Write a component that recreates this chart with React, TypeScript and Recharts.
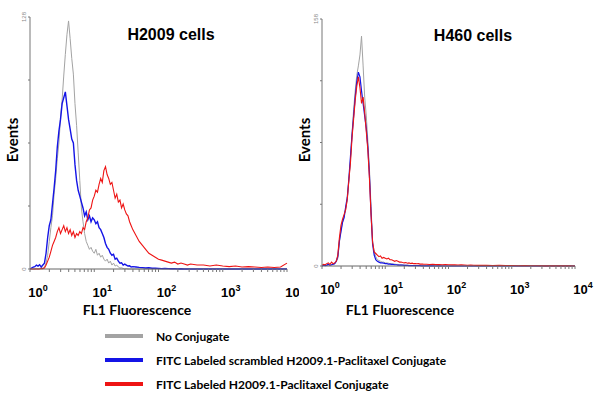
import React from 'react';
import { LineChart, Line, XAxis, YAxis, Label } from 'recharts';

// FL1 channel position in log decades (10^0 .. 10^4)
const xDecades = [
  0, 0.025, 0.05, 0.075, 0.1, 0.125, 0.15, 0.175, 0.2, 0.225,
  0.25, 0.275, 0.3, 0.325, 0.35, 0.375, 0.4, 0.425, 0.45, 0.475,
  0.5, 0.525, 0.55, 0.575, 0.6, 0.625, 0.65, 0.675, 0.7, 0.725,
  0.75, 0.775, 0.8, 0.825, 0.85, 0.875, 0.9, 0.925, 0.95, 0.975,
  1.0, 1.025, 1.05, 1.075, 1.1, 1.125, 1.15, 1.175, 1.2, 1.225,
  1.25, 1.275, 1.3, 1.325, 1.35, 1.375, 1.4, 1.425, 1.45, 1.475,
  1.5, 1.525, 1.55, 1.575, 1.6,
  1.65, 1.7, 1.75, 1.8, 1.85, 1.9, 1.95, 2.0, 2.05, 2.1,
  2.15, 2.2, 2.25, 2.3, 2.35, 2.4, 2.45, 2.5,
  2.6, 2.7, 2.8, 2.9, 3.0, 3.1, 3.2, 3.3, 3.4, 3.5, 3.6, 3.7, 3.8, 3.9, 4.0,
];

const decadeTicks = [0, 1, 2, 3, 4];
const decadeExponents = ['0', '1', '2', '3', '4'];

// H2009 cells
const h2009None = [
  0, 0, 0, 0, 0.3, 0, 0.3, 0.5, 0.4, 1,
  3, 7, 14, 21, 27, 38, 46, 56, 64, 77,
  86, 98, 109, 119, 126, 117, 107, 99, 84, 73,
  59, 45, 31, 24, 18, 14, 12, 10, 11, 9,
  8, 10, 7, 8, 6, 7, 5, 4, 5, 3,
  4, 2, 3, 1.5, 2, 1, 0.5, 0.6, 0.3, 0,
  0.2, 0, 0, 0, 0,
  0, 0, 0, 0, 0, 0, 0, 0, 0, 0,
  0, 0, 0, 0, 0, 0, 0, 0,
  0, 0, 0, 0, 0, 0, 0, 0, 0, 0, 0, 0, 0, 0, 0,
];
const h2009Scrambled = [
  0, 0.5, 1, 1.2, 2, 1.5, 2.2, 1, 2, 3,
  8, 16, 22, 25, 33, 41, 50, 62, 70, 76,
  84, 87, 90, 83, 76, 71, 66, 64, 53, 45,
  40, 37, 34, 31, 27, 29, 25, 27, 24, 26,
  25, 23, 24, 21, 20, 18, 16, 13, 11, 10,
  8, 7, 7.5, 5, 5.5, 4, 3, 3.2, 2, 2.5,
  2, 1.5, 1.6, 1, 1.2,
  1, 0.8, 0.7, 0.5, 0.6, 0.4, 0.4, 0.3, 0.2, 0.3,
  0.2, 0.1, 0.2, 0, 0.1, 0, 0, 0,
  0, 0, 0, 0, 0, 0, 0, 0, 0, 0, 0, 0, 0, 0, 0,
];
const h2009Targeted = [
  0, 0, 0, 0, 0, 0, 0, 0.3, 0.2, 0.5,
  2, 4, 6, 9, 12, 14, 16, 19, 21, 18,
  20, 22, 19, 21, 18, 20, 17, 19, 16, 18,
  17, 19, 18, 21, 20, 24, 26, 30, 31, 35,
  37, 40, 39, 43, 46, 44, 50, 52, 48, 46,
  43, 44, 40, 36, 38, 34, 35, 31, 33, 30,
  28, 27, 24, 22, 20,
  17, 14, 12, 10, 8, 7, 6, 5, 4.5, 4,
  3.5, 3, 3.5, 2.5, 3, 2.5, 2, 2.5,
  2, 2, 1.5, 2, 1.5, 1.2, 1.5, 1, 1.2, 1, 0.8, 1, 0.8, 1, 3,
];

// H460 cells
const h460None = [
  0, 0.3, 0.5, 0.3, 0.8, 0.5, 0.6, 1, 1.5, 2.5,
  5, 15, 23, 28, 32, 37, 42, 55, 68, 85,
  100, 112, 122, 128, 135, 147, 128, 108, 96, 80,
  62, 38, 16, 9, 6, 4, 3.5, 3, 2.5, 2.5,
  2, 2, 1.8, 1.5, 1.5, 1.2, 1.2, 1, 1, 0.8,
  0.8, 0.6, 0.6, 0.5, 0.5, 0.4, 0.4, 0.3, 0.3, 0.3,
  0.3, 0.2, 0.2, 0.2, 0.2,
  0.2, 0.1, 0.1, 0.1, 0, 0.1, 0, 0, 0, 0,
  0, 0, 0, 0, 0, 0, 0, 0,
  0, 0, 0, 0, 0, 0, 0, 0, 0, 0, 0, 0, 0, 0, 0,
];
const h460Scrambled = [
  0, 0.5, 0.3, 0.6, 1, 0.5, 0.8, 1.2, 1.5, 3,
  6, 16, 22, 28, 31, 38, 44, 56, 70, 84,
  96, 108, 118, 124, 121, 112, 104, 96, 88, 76,
  58, 34, 14, 7, 4, 3, 2.5, 2, 2, 1.8,
  1.5, 1.5, 1.2, 1.2, 1, 1, 0.8, 0.8, 0.6, 0.6,
  0.5, 0.5, 0.4, 0.4, 0.4, 0.3, 0.3, 0.3, 0.2, 0.2,
  0.2, 0.2, 0.2, 0.1, 0.1,
  0.1, 0.1, 0.1, 0, 0.1, 0, 0, 0, 0, 0,
  0, 0, 0, 0, 0, 0, 0, 0,
  0, 0, 0, 0, 0, 0, 0, 0, 0, 0, 0, 0, 0, 0, 0,
];
const h460Targeted = [
  0.5, 1, 0.8, 1.5, 2, 1, 2.5, 1.5, 2, 3,
  7, 18, 26, 30, 33, 36, 43, 55, 66, 82,
  94, 106, 115, 121, 114, 104, 108, 98, 86, 74,
  56, 33, 15, 9, 8, 7, 6, 6.5, 5, 5.5,
  5, 4.5, 5, 4, 4, 3.5, 3, 3.5, 3, 2.5,
  2.5, 2.2, 2, 2.2, 1.8, 2, 1.6, 1.8, 1.5, 1.5,
  1.4, 1.5, 1.2, 1.3, 1.2,
  1.1, 1, 1.1, 0.9, 1, 0.8, 0.9, 0.8, 0.7, 0.8,
  0.6, 0.7, 0.6, 0.5, 0.6, 0.5, 0.4, 0.5,
  0.4, 0.3, 0.4, 0.3, 0.3, 0.2, 0.3, 0.2, 0.2, 0.1, 0.2, 0.1, 0.1, 0.1, 0,
];

const seriesNames = [
  'No Conjugate',
  'FITC Labeled scrambled H2009.1-Paclitaxel Conjugate',
  'FITC Labeled H2009.1-Paclitaxel Conjugate',
];
const seriesColors = ['#a3a3a3', '#1414e6', '#ee1414'];

const h2009Rows = xDecades.map((x, i) => ({
  x,
  none: h2009None[i],
  scrambled: h2009Scrambled[i],
  targeted: h2009Targeted[i],
}));
const h460Rows = xDecades.map((x, i) => ({
  x,
  none: h460None[i],
  scrambled: h460Scrambled[i],
  targeted: h460Targeted[i],
}));

// log minor ticks between decades
const xTicks: number[] = [];
decadeTicks.forEach((d) => {
  xTicks.push(d);
  if (d < 4) {
    for (let k = 2; k <= 9; k++) xTicks.push(d + Math.log10(k));
  }
});

const ARIAL = 'Liberation Sans, Arial, sans-serif';
const CALIBRI = 'Lato, Open Sans, sans-serif';

const XTick = (props: any) => {
  const { x, y, payload } = props;
  const v = payload.value;
  const idx = decadeTicks.indexOf(v);
  return (
    <g>
      <line x1={x} x2={x} y1={y} y2={y + 3} stroke="#777" strokeWidth={1} />
      {idx >= 0 && (
        <text x={x + 8} y={y + 28} textAnchor="middle" fontFamily={ARIAL} fontWeight="bold" fontSize={13} fill="#000">
          10<tspan dy={-6} fontSize={9}>{decadeExponents[idx]}</tspan>
        </text>
      )}
    </g>
  );
};

const makeYTick = (top: number) => (props: any) => {
  const { x, y, payload } = props;
  const v = payload.value;
  return (
    <g>
      <line x1={x - 2} x2={x} y1={y} y2={y} stroke="#777" strokeWidth={1} />
      {(v === 0 || v === top) && (
        <text
          transform={`translate(${x - 4},${y}) rotate(-90)`}
          textAnchor="middle"
          fontFamily={ARIAL}
          fontSize={6}
          fill="#888"
        >
          {v}
        </text>
      )}
    </g>
  );
};

type PanelProps = {
  rows: any[];
  top: number;
  yTicks: number[];
  width: number;
  margin: { top: number; right: number; bottom: number; left: number };
  eventsX: number;
  fl1X: number;
  wide: number;
};

const Panel = ({ rows, top, yTicks, width, margin, eventsX, fl1X, wide }: PanelProps) => (
  <LineChart width={width} height={320} data={rows} margin={margin}>
    <XAxis
      dataKey="x"
      type="number"
      domain={[0, 4]}
      ticks={xTicks}
      interval={0}
      height={1}
      tickSize={0}
      tickMargin={0}
      tick={<XTick />}
      axisLine={{ stroke: '#666' }}
      label={
        <Label
          content={() => (
            <text x={fl1X} y={315} textAnchor="middle" fontFamily={CALIBRI} fontWeight="bold" fontSize={14} fill="#000">
              FL1 Fluorescence
            </text>
          )}
        />
      }
    />
    <YAxis
      type="number"
      domain={[0, top]}
      ticks={yTicks}
      interval={0}
      width={1}
      tickSize={0}
      tickMargin={0}
      tick={makeYTick(top)}
      axisLine={{ stroke: '#777' }}
      label={
        <Label
          content={() => (
            <text
              transform={`translate(${eventsX},140) rotate(-90)`}
              textAnchor="middle"
              dominantBaseline="central"
              fontFamily={CALIBRI}
              fontWeight="bold"
              fontSize={15}
              fill="#000"
            >
              Events
            </text>
          )}
        />
      }
    />
    <Line dataKey="none" stroke={seriesColors[0]} strokeWidth={1} dot={false} isAnimationActive={false} />
    <Line dataKey="scrambled" stroke={seriesColors[1]} strokeWidth={wide} dot={false} isAnimationActive={false} />
    <Line dataKey="targeted" stroke={seriesColors[2]} strokeWidth={1.1} dot={false} isAnimationActive={false} />
  </LineChart>
);

const titleStyle: React.CSSProperties = {
  position: 'absolute',
  fontFamily: ARIAL,
  fontWeight: 'bold',
  fontSize: 16,
  width: 160,
  textAlign: 'center',
  lineHeight: '18px',
};

export default function App() {
  return (
    <div style={{ position: 'absolute', left: 0, top: 0, width: 600, height: 405, background: '#fff', overflow: 'hidden' }}>
      <div style={{ position: 'absolute', left: 0, top: 0 }}>
        <Panel
          rows={h2009Rows}
          top={128}
          yTicks={[0, 32, 64, 96, 128]}
          width={299}
          margin={{ top: 17, right: 12, bottom: 50, left: 29 }}
          eventsX={12}
          fl1X={137}
          wide={1.4}
        />
      </div>
      <div style={{ position: 'absolute', left: 286, top: 0 }}>
        <Panel
          rows={h460Rows}
          top={158}
          yTicks={[0, 39.5, 79, 118.5, 158]}
          width={314}
          margin={{ top: 19, right: 25, bottom: 53, left: 35 }}
          eventsX={18}
          fl1X={114}
          wide={1.2}
        />
      </div>
      <div style={{ ...titleStyle, left: 91, top: 26 }}>H2009 cells</div>
      <div style={{ ...titleStyle, left: 393, top: 27 }}>H460 cells</div>
      <div style={{ position: 'absolute', left: 105, top: 324, fontFamily: CALIBRI, fontWeight: 'bold', fontSize: 12 }}>
        {seriesNames.map((name, i) => (
          <div key={name} style={{ display: 'flex', alignItems: 'center', height: 24 }}>
            <div style={{ width: 38, height: 4, background: seriesColors[i], marginRight: 13 }} />
            <span>{name}</span>
          </div>
        ))}
      </div>
    </div>
  );
}
